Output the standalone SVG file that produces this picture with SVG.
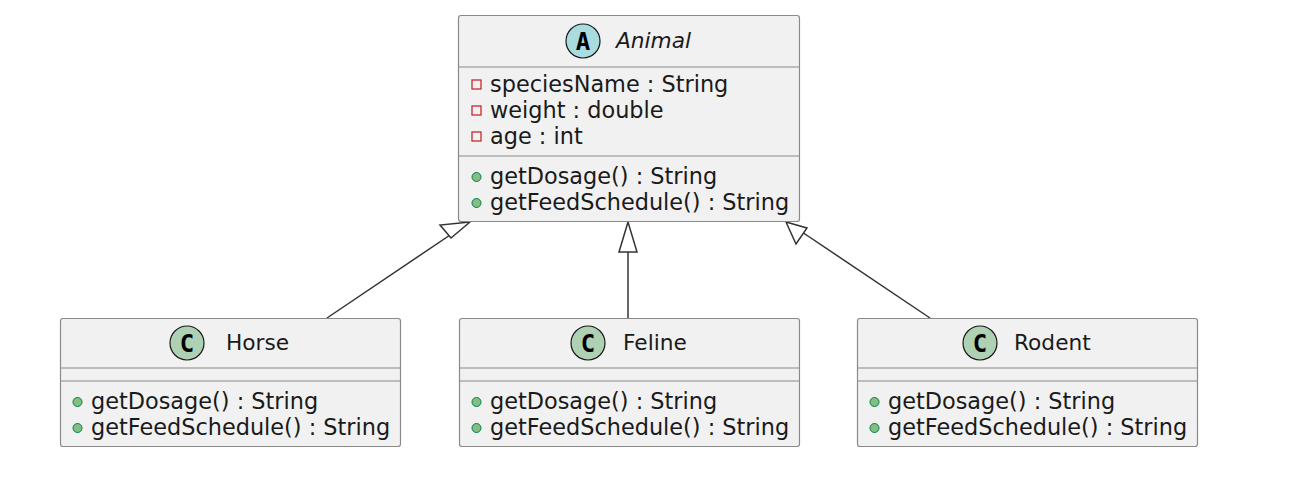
<svg xmlns="http://www.w3.org/2000/svg" width="1294" height="503" viewBox="0 0 1294 503">
<style>
.box{fill:#F1F1F1;stroke:#8a8a8a;stroke-width:1.2}
.sep{stroke:#8a8a8a;stroke-width:1.2}
.t{font-family:"DejaVu Sans",sans-serif;font-size:22.4px;fill:#1a1a1a}
.n{font-family:"DejaVu Sans",sans-serif;font-size:21.7px;fill:#1a1a1a}
.i{font-style:italic}
.pub{fill:#84BE84;stroke:#038048;stroke-width:1}
.priv{fill:none;stroke:#C82930;stroke-width:1.3}
.ca{fill:#A9DCDF;stroke:#181818;stroke-width:1.2}
.cc{fill:#ADD1B2;stroke:#181818;stroke-width:1.2}
.ic{font-family:"DejaVu Sans Mono",monospace;font-weight:bold;font-size:24px;fill:#000;text-anchor:middle}
.edge{stroke:#333;stroke-width:1.5;fill:none}
.head{fill:#fff;stroke:#333;stroke-width:1.5}
</style>
<rect width="1294" height="503" fill="#fff"/>
<g id="connectors">
<line class="edge" x1="327" y1="318" x2="456" y2="231"/>
<polygon class="head" points="470,222 451,238 440,225"/>
<line class="edge" x1="628" y1="318" x2="628" y2="252"/>
<polygon class="head" points="628,222 619,252 637,252"/>
<line class="edge" x1="930" y1="318" x2="802" y2="232"/>
<polygon class="head" points="786,222 807,228 796,244"/>
</g>
<g id="Animal">
<rect class="box" x="458.5" y="15.5" width="341" height="206" rx="2.5"/>
<line class="sep" x1="458.5" y1="67" x2="799.5" y2="67"/>
<line class="sep" x1="458.5" y1="156" x2="799.5" y2="156"/>
<circle class="ca" cx="583" cy="41" r="17"/>
<text class="ic" x="583" y="49.5">A</text>
<text class="n i" x="616" y="48">Animal</text>
<rect class="priv" x="472" y="80" width="9" height="9"/>
<text class="t" x="490" y="92">speciesName : String</text>
<rect class="priv" x="472" y="106" width="9" height="9"/>
<text class="t" x="490" y="118">weight : double</text>
<rect class="priv" x="472" y="132" width="9" height="9"/>
<text class="t" x="490" y="144">age : int</text>
<circle class="pub" cx="476.5" cy="177" r="4.5"/>
<text class="t" x="490" y="184">getDosage() : String</text>
<circle class="pub" cx="476.5" cy="203" r="4.5"/>
<text class="t" x="490" y="210">getFeedSchedule() : String</text>
</g>
<g id="Horse">
<rect class="box" x="60.5" y="318.5" width="340" height="128" rx="2.5"/>
<line class="sep" x1="60.5" y1="368" x2="400.5" y2="368"/>
<line class="sep" x1="60.5" y1="381" x2="400.5" y2="381"/>
<circle class="cc" cx="187" cy="343" r="17"/>
<text class="ic" x="187" y="351.5">C</text>
<text class="n" x="226" y="350">Horse</text>
<circle class="pub" cx="77.5" cy="402" r="4.5"/>
<text class="t" x="91" y="409">getDosage() : String</text>
<circle class="pub" cx="77.5" cy="428" r="4.5"/>
<text class="t" x="91" y="435">getFeedSchedule() : String</text>
</g>
<g id="Feline">
<rect class="box" x="459.5" y="318.5" width="340" height="128" rx="2.5"/>
<line class="sep" x1="459.5" y1="368" x2="799.5" y2="368"/>
<line class="sep" x1="459.5" y1="381" x2="799.5" y2="381"/>
<circle class="cc" cx="588" cy="343" r="17"/>
<text class="ic" x="588" y="351.5">C</text>
<text class="n" x="623" y="350">Feline</text>
<circle class="pub" cx="476.5" cy="402" r="4.5"/>
<text class="t" x="490" y="409">getDosage() : String</text>
<circle class="pub" cx="476.5" cy="428" r="4.5"/>
<text class="t" x="490" y="435">getFeedSchedule() : String</text>
</g>
<g id="Rodent">
<rect class="box" x="857.5" y="318.5" width="340" height="128" rx="2.5"/>
<line class="sep" x1="857.5" y1="368" x2="1197.5" y2="368"/>
<line class="sep" x1="857.5" y1="381" x2="1197.5" y2="381"/>
<circle class="cc" cx="980" cy="343" r="17"/>
<text class="ic" x="980" y="351.5">C</text>
<text class="n" x="1014" y="350">Rodent</text>
<circle class="pub" cx="874.5" cy="402" r="4.5"/>
<text class="t" x="888" y="409">getDosage() : String</text>
<circle class="pub" cx="874.5" cy="428" r="4.5"/>
<text class="t" x="888" y="435">getFeedSchedule() : String</text>
</g>
</svg>
